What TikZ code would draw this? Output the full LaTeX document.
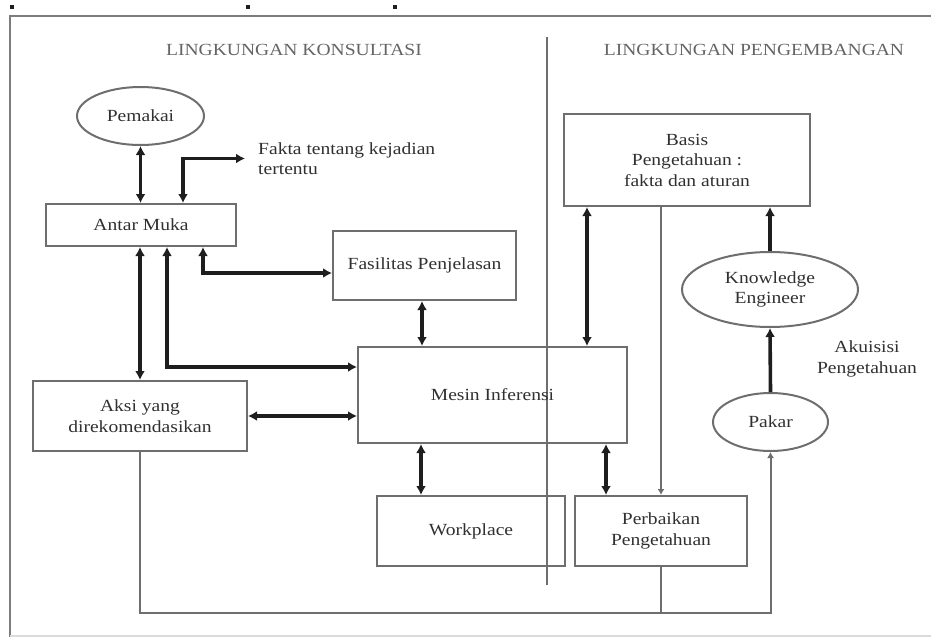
\documentclass[tikz,border=0pt]{standalone}
\usepackage{fontspec}
\setmainfont{Liberation Serif}[FakeStretch=1.15]
\usetikzlibrary{arrows.meta,shapes.geometric}

\definecolor{ink}{HTML}{303030}
\definecolor{edge}{HTML}{6E6E6E}
\definecolor{flow}{HTML}{1E1E1E}

\begin{document}
\begin{tikzpicture}[x=1pt,y=-1pt,
  every node/.style={font=\fontsize{17}{20.5}\selectfont, text=ink},
  box/.style={draw=edge, line width=2pt, rectangle, inner sep=0pt, align=center},
  oval/.style={draw=edge, line width=2pt, ellipse, inner sep=0pt, align=center},
  caption/.style={align=center, inner sep=0pt},
  flowline/.style={draw=flow, line width=3.6pt, -{Latex[length=9pt,width=10pt]}},
  twoway/.style={draw=flow, line width=3.6pt, {Latex[length=9pt,width=10pt]}-{Latex[length=9pt,width=10pt]}},
  feed/.style={draw=edge, line width=2pt},
  feedtip/.style={feed, -{Latex[length=6pt,width=7pt]}},
]
\useasboundingbox (0,0) rectangle (931,637);

% page frame and marks
\draw[edge!90, line width=2.2pt] (931,16) -- (10,16) -- (10,637);
\draw[edge!25, line width=1.2pt] (10,636) -- (931,636);
\fill[flow] (10,5) rectangle (14,9);
\fill[flow] (246,5) rectangle (250,9);
\fill[flow] (393,5) rectangle (397,9);

% divider between the two environments
\coordinate (divtop) at (547,37);
\coordinate (divbot) at (547,585);
\draw[edge, line width=2pt] (divtop) -- (divbot);

% headings
\node[caption, text=ink!75] (konsul) at (294,50) {LINGKUNGAN KONSULTASI};
\node[caption, text=ink!75] (kembang) at (754,50) {LINGKUNGAN PENGEMBANGAN};

% consultation side
\node[oval, minimum width=127, minimum height=58] (pemakai) at (140.5,116) {Pemakai};
\node[box, minimum width=190, minimum height=42] (antar) at (141,225) {Antar Muka};
\node[caption, align=left, anchor=west] (fakta) at (258,158.5) {Fakta tentang kejadian\\tertentu};
\node[box, minimum width=183, minimum height=69] (fasil) at (424.5,265.5) {Fasilitas Penjelasan};
\node[box, minimum width=269, minimum height=96] (mesin) at (492.5,395) {Mesin Inferensi};
\node[box, minimum width=214, minimum height=70] (aksi) at (140,416) {Aksi yang\\direkomendasikan};
\node[box, minimum width=188, minimum height=70] (work) at (471,531) {Workplace};

% development side
\node[box, minimum width=246, minimum height=92] (basis) at (687,160) {Basis\\Pengetahuan :\\fakta dan aturan};
\node[box, minimum width=172, minimum height=70] (perb) at (661,531) {Perbaikan\\Pengetahuan};
\node[oval, minimum width=176, minimum height=75] (ke) at (770,289.5) {Knowledge\\Engineer};
\node[oval, minimum width=115, minimum height=58] (pakar) at (770.5,422) {Pakar};
\node[caption] (akuisisi) at (867,359) {Akuisisi\\Pengetahuan};

% helper columns and rows
\coordinate (x140) at (140,0);
\coordinate (x167) at (167,0);
\coordinate (x183) at (183,0);
\coordinate (x203) at (203,0);
\coordinate (x421) at (421,0);
\coordinate (x422) at (422,0);
\coordinate (x587) at (587,0);
\coordinate (x606) at (606,0);
\coordinate (y613) at (0,613);

% thick information flows
\draw[twoway] (pemakai.south) -- (pemakai.south |- antar.north);
\draw[twoway] ([xshift=-13pt]fakta.west) -| (x183 |- antar.north);
\draw[twoway] (x140 |- antar.south) -- (x140 |- aksi.north);
\draw[twoway] (x167 |- antar.south) |- ([yshift=28pt]mesin.west);
\draw[twoway] (x203 |- antar.south) |- ([yshift=-7.5pt]fasil.west);
\draw[twoway] (x422 |- fasil.south) -- (x422 |- mesin.north);
\draw[twoway] (aksi.east) -- (aksi.east -| mesin.west);
\draw[twoway] (x421 |- mesin.south) -- (x421 |- work.north);
\draw[twoway] (x606 |- mesin.south) -- (x606 |- perb.north);
\draw[twoway] (x587 |- basis.south) -- (x587 |- mesin.north);
\draw[flowline] (ke.north) -- (ke.north |- basis.south);
\draw[flowline] (pakar.north) -- (ke.south);

% thin feedback lines
\draw[feedtip] (perb.north |- basis.south) -- (perb.north);
\draw[feed] (perb.south) -- (perb.south |- y613);
\draw[feedtip] (aksi.south) -- (aksi.south |- y613) -| (pakar.south);
\end{tikzpicture}
\end{document}
